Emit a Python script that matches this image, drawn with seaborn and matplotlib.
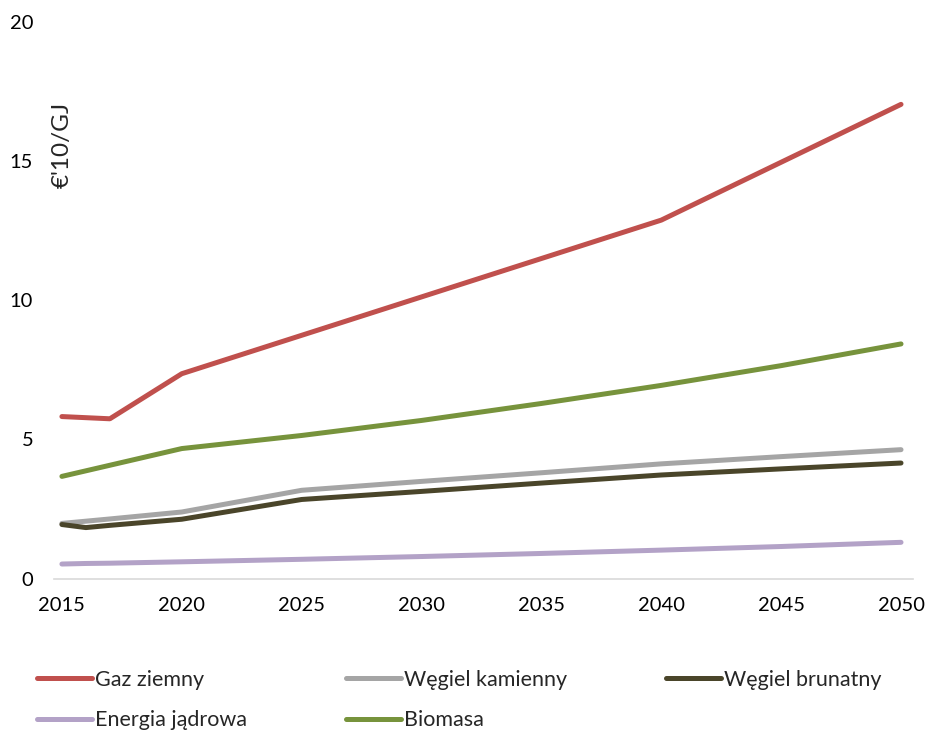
import numpy as np
import pandas as pd
import seaborn as sns
from matplotlib import pyplot as plt

# dane
years = [2015, 2016, 2017, 2020, 2025, 2030, 2035, 2040, 2045, 2050]
gaz_ziemny = [5.82, 5.78, 5.74, 7.36, 8.74, 10.12, 11.50, 12.88, 14.96, 17.04]
wegiel_kamienny = [1.98, 2.06, 2.14, 2.39, 3.17, 3.49, 3.80, 4.12, 4.38, 4.63]
wegiel_brunatny = [1.94, 1.83, 1.91, 2.13, 2.84, 3.13, 3.43, 3.72, 3.94, 4.15]
energia_jadrowa = [0.52, 0.54, 0.55, 0.60, 0.69, 0.79, 0.90, 1.02, 1.15, 1.30]
biomasa = [3.67, 3.87, 4.07, 4.67, 5.14, 5.68, 6.29, 6.94, 7.65, 8.43]

names = ['Gaz ziemny', 'Węgiel kamienny', 'Węgiel brunatny', 'Energia jądrowa', 'Biomasa']
colors = ['#C0504D', '#A5A5A5', '#4A452A', '#B3A2C7', '#77933C']
y_ticks = [0, 5, 10, 15, 20]
x_ticks = [2015, 2020, 2025, 2030, 2035, 2040, 2045, 2050]

series = [gaz_ziemny, wegiel_kamienny, wegiel_brunatny, energia_jadrowa, biomasa]
df = pd.concat([pd.DataFrame({'rok': years, 'cena': v, 'paliwo': n}) for n, v in zip(names, series)])

sns.set_style('white')
plt.rcParams['font.family'] = ['Lato', 'DejaVu Sans']

fig = plt.figure(figsize=(9.27, 7.31), dpi=100)
ax = fig.add_axes([54 / 927, 1 - 578.5 / 731, (913 - 54) / 927, (578.5 - 22) / 731])

sns.lineplot(data=df, x='rok', y='cena', hue='paliwo', hue_order=names,
             palette=dict(zip(names, colors)), linewidth=3.6, legend=False, ax=ax,
             solid_capstyle='round', solid_joinstyle='round')

ax.set_xlim(2014.67, 2050.5)
ax.set_ylim(0, 20)
ax.set_xticks(x_ticks)
ax.set_yticks(y_ticks)
ax.tick_params(axis='both', length=0, labelsize=14.5, colors='black')
ax.tick_params(axis='x', pad=13)
ax.tick_params(axis='y', pad=15)
ax.set_xlabel('')
ax.set_ylabel('')
for s in ['top', 'right', 'left']:
    ax.spines[s].set_visible(False)
ax.spines['bottom'].set_color('#D9D9D9')
ax.spines['bottom'].set_linewidth(1.2)

fig.text(62 / 927, 1 - 145 / 731, "€'10/GJ", rotation=90, ha='center', va='center', fontsize=17.5)

# legenda - kolejnosc wierszami
handles = ax.get_lines()[:5]
order = [0, 3, 1, 4, 2]
fig.legend([handles[i] for i in order], [names[i] for i in order], ncol=3,
           loc='upper left', bbox_to_anchor=(28 / 927, 1 - 661 / 731), frameon=False,
           fontsize=15.5, handlelength=2.55, handletextpad=0.15, columnspacing=4.6,
           labelspacing=0.95, borderaxespad=0)

plt.savefig('out.png', dpi=100)
